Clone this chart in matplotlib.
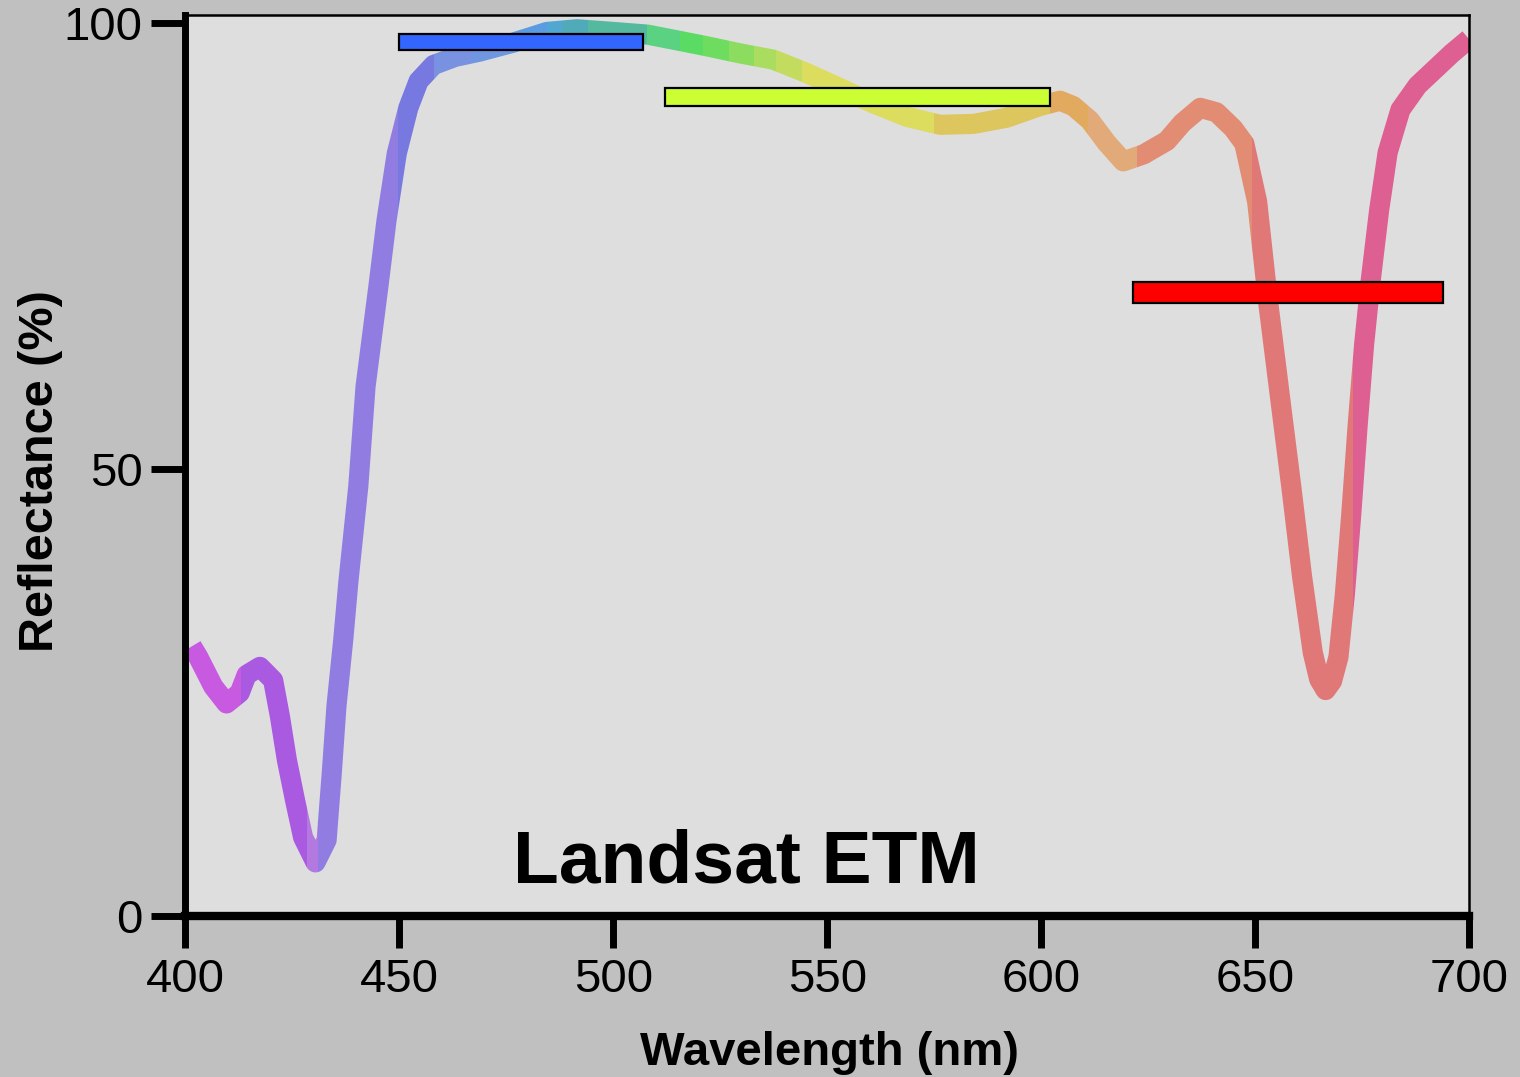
import matplotlib
matplotlib.use("Agg")
import matplotlib.pyplot as plt
from matplotlib.patches import Rectangle

plt.rcParams['font.family'] = ['Liberation Sans', 'DejaVu Sans']

# spectrum (nm, %)
wavelength = [401.5, 403, 406.5, 409.6, 412.7, 414.3, 417.4, 420.5, 422.1, 423.7,
              425.6, 427.5, 430.4, 433.0, 434.2, 435.3, 436.9, 438.1, 440.4, 442.1,
              445.1, 447.0, 449.4, 452.1, 454.5, 458, 463, 468.8, 476.6, 484.5,
              491.5, 500, 508, 515.5, 521.8, 529.6, 537.4, 545.2, 553, 560.8,
              568.6, 576.4, 584.2, 592, 599.7, 604.4, 607.5, 611.4, 615.3, 619.2,
              624, 629.4, 633, 637.2, 641, 644.9, 647.5, 650.5, 653, 656,
              658.5, 661, 663.5, 665, 666.5, 668, 669.5, 671, 672.5, 674,
              675.5, 677, 679, 681, 684, 688, 692, 696, 700]
reflectance = [30.2, 29.0, 25.7, 23.8, 25.0, 27.0, 27.9, 26.4, 22.3, 17.5,
               13.0, 8.8, 6.0, 8.5, 16.0, 23.5, 31.0, 37.5, 48.1, 59.3,
               70.5, 77.9, 85.4, 90.5, 93.5, 95.3, 96.2, 96.8, 97.8, 99.0,
               99.3, 99.0, 98.7, 98.0, 97.4, 96.6, 95.9, 94.4, 92.7, 91.0,
               89.5, 88.6, 88.7, 89.4, 90.7, 91.3, 90.7, 89.1, 86.6, 84.5,
               85.3, 86.8, 88.8, 90.5, 90.0, 88.2, 86.5, 80.0, 69.0, 57.5,
               48.0, 38.0, 29.5, 26.5, 25.3, 26.3, 29.0, 36.0, 45.0, 55.0,
               64.0, 71.0, 79.0, 85.5, 90.3, 93.0, 94.8, 96.6, 98.2]

# colour bands along the curve
band_edges = [400, 413, 428.5, 431, 449.7, 458, 467, 476.6, 484.5, 488, 494,
              508, 515.6, 521, 527, 533, 538, 544, 575, 602, 611, 622.4,
              649.3, 673, 700]
band_colors = ['#c85ae1', '#aa5ae1', '#b478e1', '#917de1', '#7878e1', '#7891e1',
               '#6e96e1', '#5a9be1', '#50a8d2', '#50aab9', '#55b9a0', '#5ad282',
               '#5adc64', '#6edc5f', '#8cdc5f', '#aadc5f', '#c3dc5f', '#dcdc5f',
               '#dec65f', '#e1aa5f', '#e1aa78', '#e18c73', '#e17878', '#de5f91']

# Landsat ETM bands
bar_start = [450, 512, 621.5]
bar_end = [507, 602, 694]
bar_level = [97.9, 91.7, 69.8]
bar_height = [1.8, 2.0, 2.3]
bar_colors = ['#3366ff', '#ccff33', '#ff0000']

fig = plt.figure(figsize=(15.2, 10.77), dpi=100, facecolor='#c0c0c0')
ax = fig.add_axes([0.1220, 0.1495, 0.8444, 0.8366])
ax.set_facecolor('#dedede')

for lo, hi, col in zip(band_edges[:-1], band_edges[1:], band_colors):
    line, = ax.plot(wavelength, reflectance, color=col, lw=14.5,
                    solid_capstyle='butt', solid_joinstyle='round', zorder=2)
    clip = Rectangle((lo, -20), hi - lo, 140, transform=ax.transData)
    line.set_clip_path(clip)

ax.barh(bar_level, [e - s for s, e in zip(bar_start, bar_end)], left=bar_start,
        height=bar_height, color=bar_colors, edgecolor='black', linewidth=1.6, zorder=3)

ax.text(531, 3.8, 'Landsat ETM', ha='center', va='baseline',
        fontsize=54, fontweight='bold', zorder=4)

ax.set_xlim(400, 700)
ax.set_ylim(0, 100.9)
ax.set_xticks([400, 450, 500, 550, 600, 650, 700])
ax.set_yticks([0, 50, 100])

ax.spines['left'].set_linewidth(5)
ax.spines['bottom'].set_linewidth(6)
ax.spines['top'].set_linewidth(1.8)
ax.spines['right'].set_linewidth(1.8)

ax.tick_params(axis='y', direction='out', length=24.5, width=5, labelsize=34, pad=6.5)
ax.tick_params(axis='x', direction='out', length=23, width=5, labelsize=34, pad=7)

ax.set_xlabel('Wavelength (nm)', fontsize=34, fontweight='bold')
ax.set_ylabel('Reflectance (%)', fontsize=35, fontweight='bold')
ax.xaxis.set_label_coords(0.502, -0.128)
ax.yaxis.set_label_coords(-0.0954, 0.494)

fig.savefig('out.png', dpi=100, facecolor=fig.get_facecolor())
